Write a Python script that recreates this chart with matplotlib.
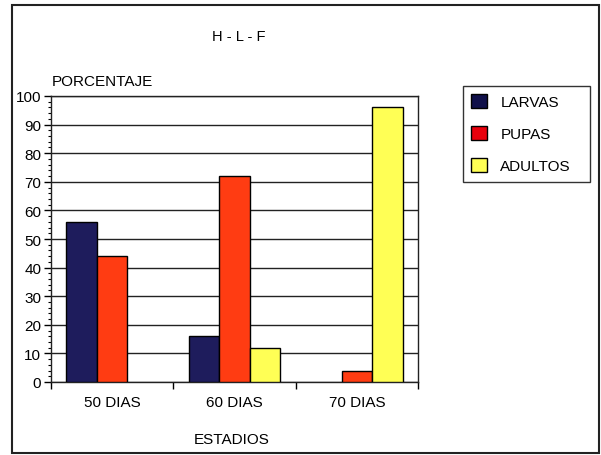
import matplotlib
matplotlib.use("Agg")
import matplotlib.pyplot as plt
from matplotlib.patches import Rectangle, Patch
from matplotlib.ticker import MultipleLocator
import numpy as np

plt.rcParams['font.family'] = ['Liberation Sans', 'DejaVu Sans']

categories = ["50 DIAS", "60 DIAS", "70 DIAS"]
series_names = ["LARVAS", "PUPAS", "ADULTOS"]
larvas = [56, 16, 0]
pupas = [44, 72, 4]
adultos = [0, 12, 96]
bar_colors = ["#1e1c5c", "#ff3c12", "#ffff55"]
legend_colors = ["#10104a", "#e8000c", "#ffff55"]

fig = plt.figure(figsize=(6.01, 4.56), dpi=100)
fig.patch.set_facecolor("white")

# outer border
fig.add_artist(Rectangle((12/601, 1-454/456), (599-12)/601, (454-6)/456,
                         transform=fig.transFigure, fill=False,
                         edgecolor="#222222", linewidth=1.5))

ax = fig.add_axes([51/601, 1-383/456, (418-51)/601, (383-97)/456])
x = np.arange(len(categories))
w = 0.25
for i, (vals, c) in enumerate(zip([larvas, pupas, adultos], bar_colors)):
    lws = [1 if v > 0 else 0 for v in vals]
    ax.bar(x + (i-1)*w, vals, width=w, color=c, edgecolor="black",
           linewidth=lws, zorder=3)

ax.set_xlim(-0.5, 2.5)
ax.set_ylim(0, 100)
ax.set_yticks(range(0, 101, 10))
ax.yaxis.set_minor_locator(MultipleLocator(2))
ax.tick_params(axis="y", which="major", direction="out", length=5,
               labelsize=11, pad=2, width=1)
ax.tick_params(axis="y", which="minor", direction="out", length=2.5, width=0.8)
ax.set_xticks([-0.5, 0.5, 1.5, 2.5])
ax.set_xticklabels([])
ax.tick_params(axis="x", which="major", direction="out", length=5, width=1)
for xi, lab in zip(x, categories):
    ax.text(xi, -7, lab, ha="center", va="center", fontsize=11,
            transform=ax.transData, clip_on=False)
ax.grid(axis="y", color="#222222", linewidth=1, zorder=0)
for s in ax.spines.values():
    s.set_color("#222222")
    s.set_linewidth(1)

fig.text(239/601, 1-37/456, "H - L - F", ha="center", va="center", fontsize=10.5)
fig.text(52/601, 1-82/456, "PORCENTAJE", ha="left", va="center", fontsize=11)
fig.text(232/601, 1-440/456, "ESTADIOS", ha="center", va="center", fontsize=11)

handles = [Patch(facecolor=c, edgecolor="black", linewidth=1) for c in legend_colors]
leg = fig.legend(handles, series_names, loc="upper left",
                 bbox_to_anchor=(463/601, 1-183/456, 127/601, 96/456),
                 mode="expand", frameon=True,
                 fancybox=False, edgecolor="black", fontsize=11,
                 handlelength=1.0, handleheight=1.0, handletextpad=0.9,
                 labelspacing=1.1, borderpad=0.55, borderaxespad=0)
leg.get_frame().set_linewidth(1)

fig.savefig("out.png", dpi=100)
